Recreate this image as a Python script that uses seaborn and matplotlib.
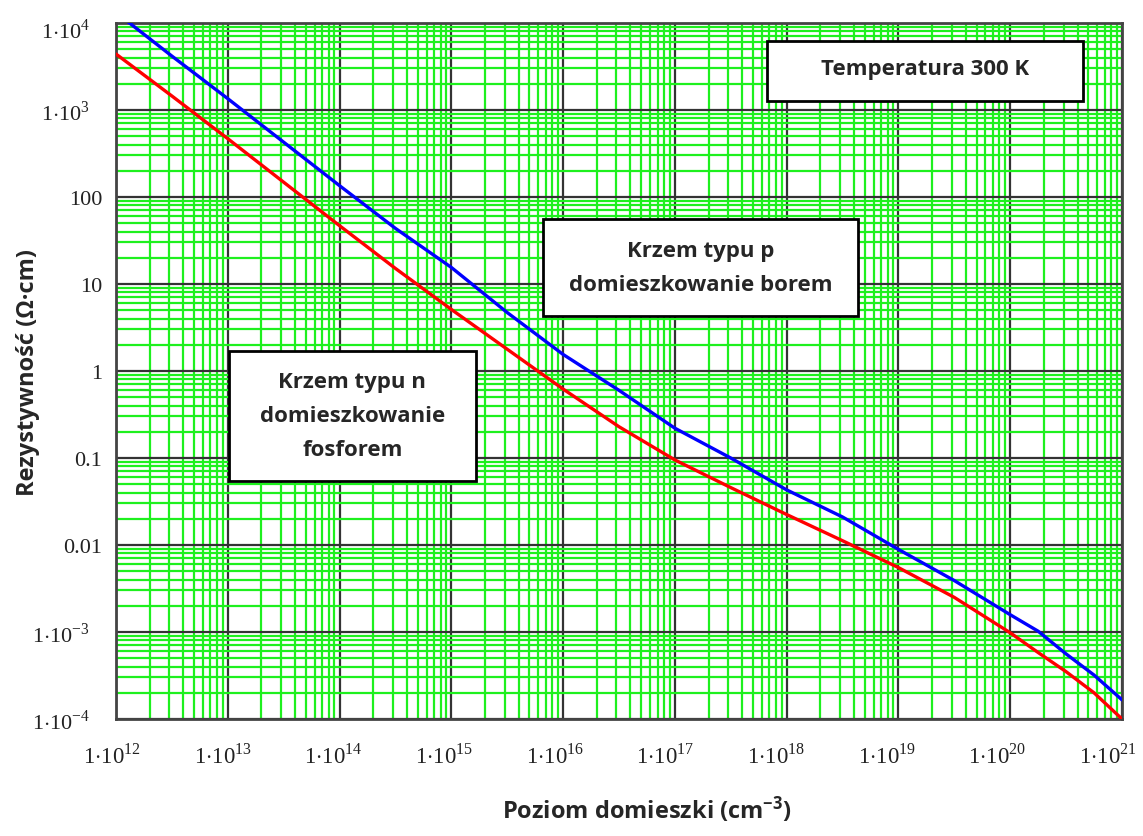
import numpy as np
import pandas as pd
import matplotlib
matplotlib.use("Agg")
import matplotlib.pyplot as plt
import matplotlib.transforms as mtransforms
import seaborn as sns
from matplotlib.ticker import LogLocator, NullFormatter
from matplotlib.patches import Rectangle

# Poziom domieszki (cm^-3), co pol dekady (gesciej przy koncu)
domieszka = [1e12, 3.16e12, 1e13, 3.16e13, 1e14, 3.16e14, 1e15, 3.16e15, 1e16, 3.16e16,
             1e17, 3.16e17, 1e18, 3.16e18, 1e19, 3.16e19, 1e20, 1.78e20, 3.16e20, 5.62e20, 1e21]

# Krzem typu p (bor) - rezystywnosc (Ohm*cm)
bor_rho = [13200, 4170, 1350, 427, 135, 43.6, 15.5, 4.7, 1.55, 0.60,
           0.22, 0.10, 0.043, 0.021, 0.0089, 0.0039, 0.00158, 0.00102, 0.00056, 0.00032, 0.000166]

# Krzem typu n (fosfor)
fosfor_rho = [4400, 1450, 468, 148, 46.8, 15.1, 5.1, 1.78, 0.62, 0.229,
              0.095, 0.0457, 0.0224, 0.0112, 0.0055, 0.0025, 0.00098, 0.00058, 0.00035, 0.0002, 0.0001]

x_ticks = [1e12, 1e13, 1e14, 1e15, 1e16, 1e17, 1e18, 1e19, 1e20, 1e21]
x_labels = [r"1$\cdot$10$^{%d}$" % e for e in range(12, 22)]
y_ticks = [1e4, 1e3, 100, 10, 1, 0.1, 0.01, 1e-3, 1e-4]
y_labels = [r"1$\cdot$10$^{4}$", r"1$\cdot$10$^{3}$", "100", "10", "1", "0.1", "0.01",
            r"1$\cdot$10$^{-3}$", r"1$\cdot$10$^{-4}$"]

df = pd.concat([
    pd.DataFrame({"N": domieszka, "rho": bor_rho, "typ": "p"}),
    pd.DataFrame({"N": domieszka, "rho": fosfor_rho, "typ": "n"}),
])

sns.set_style("white")
plt.rcParams["mathtext.fontset"] = "custom"
plt.rcParams["mathtext.rm"] = "Liberation Serif"
plt.rcParams["mathtext.bf"] = "Open Sans:bold"
plt.rcParams["font.family"] = ["Open Sans", "DejaVu Sans"]

fig = plt.figure(figsize=(11.43, 8.37), dpi=100)
ax = fig.add_axes([116 / 1143, 1 - 720 / 837, 1006 / 1143, 696 / 837])

sns.lineplot(data=df, x="N", y="rho", hue="typ", hue_order=["p", "n"],
             palette={"p": "#0000ff", "n": "#ff0000"}, linewidth=2.4,
             legend=False, ax=ax, zorder=5)

ax.set_xscale("log")
ax.set_yscale("log")
ax.set_xlim(1e12, 1e21)
ax.set_ylim(1e-4, 1e4)

ax.xaxis.set_minor_locator(LogLocator(base=10, subs=np.arange(2, 10), numticks=100))
ax.yaxis.set_minor_locator(LogLocator(base=10, subs=np.arange(2, 10), numticks=100))
ax.xaxis.set_minor_formatter(NullFormatter())
ax.yaxis.set_minor_formatter(NullFormatter())
ax.set_xticks(x_ticks, x_labels)
ax.set_yticks(y_ticks, y_labels)
ax.tick_params(which="both", length=0)
ax.tick_params(axis="x", pad=17)
ax.tick_params(axis="y", pad=10)

# etykiety osi X lekko przesuniete w lewo, jak w oryginale
for i, lab in enumerate(ax.get_xticklabels()):
    lab.set_fontfamily("Liberation Serif")
    lab.set_fontsize(16.5)
    lab.set_color("#222222")
    dx = -(4 + 1.1 * i) / 100
    lab.set_transform(lab.get_transform() + mtransforms.ScaledTranslation(dx, 0, fig.dpi_scale_trans))
for lab in ax.get_yticklabels():
    lab.set_fontfamily("Liberation Serif")
    lab.set_fontsize(16)
    lab.set_color("#222222")
    if "cdot" in lab.get_text():
        dy = -5 / 100 if "{4}" in lab.get_text() else 0
        lab.set_transform(lab.get_transform() + mtransforms.ScaledTranslation(-12 / 100, dy, fig.dpi_scale_trans))

ax.grid(which="minor", color="#1ef01e", linewidth=1.6)
ax.grid(which="major", color="#333333", linewidth=1.6)
ax.set_axisbelow(True)
for sp in ax.spines.values():
    sp.set_color("#444444")
    sp.set_linewidth(2)

ax.set_xlabel(r"Poziom domieszki (cm$\mathbf{^{-3}}$)", fontsize=17, fontweight="bold")
ax.set_ylabel("Rezystywność (Ω·cm)", fontsize=17, fontweight="bold")
ax.xaxis.set_label_coords(0.528, -0.107)
ax.yaxis.set_label_coords(-0.076, 0.5)

# ramki z opisami
boxes = [
    ((0.6474, 0.8884), 0.3135, 0.0862, (0.8042, 0.934), "Temperatura 300 K"),
    ((0.4245, 0.5786), 0.3134, 0.1398, (0.5812, 0.6487), "Krzem typu p\ndomieszkowanie borem"),
    ((0.1123, 0.3420), 0.2453, 0.1872, (0.2349, 0.4360), "Krzem typu n\ndomieszkowanie\nfosforem"),
]
for (x0, y0), w, h, (tx, ty), txt in boxes:
    ax.add_patch(Rectangle((x0, y0), w, h, transform=ax.transAxes, facecolor="white",
                           edgecolor="black", linewidth=2, zorder=10))
    ax.text(tx, ty, txt, transform=ax.transAxes, ha="center", va="center",
            fontsize=16, fontweight="bold", linespacing=1.8, zorder=11)

fig.savefig("out.png", dpi=100)
